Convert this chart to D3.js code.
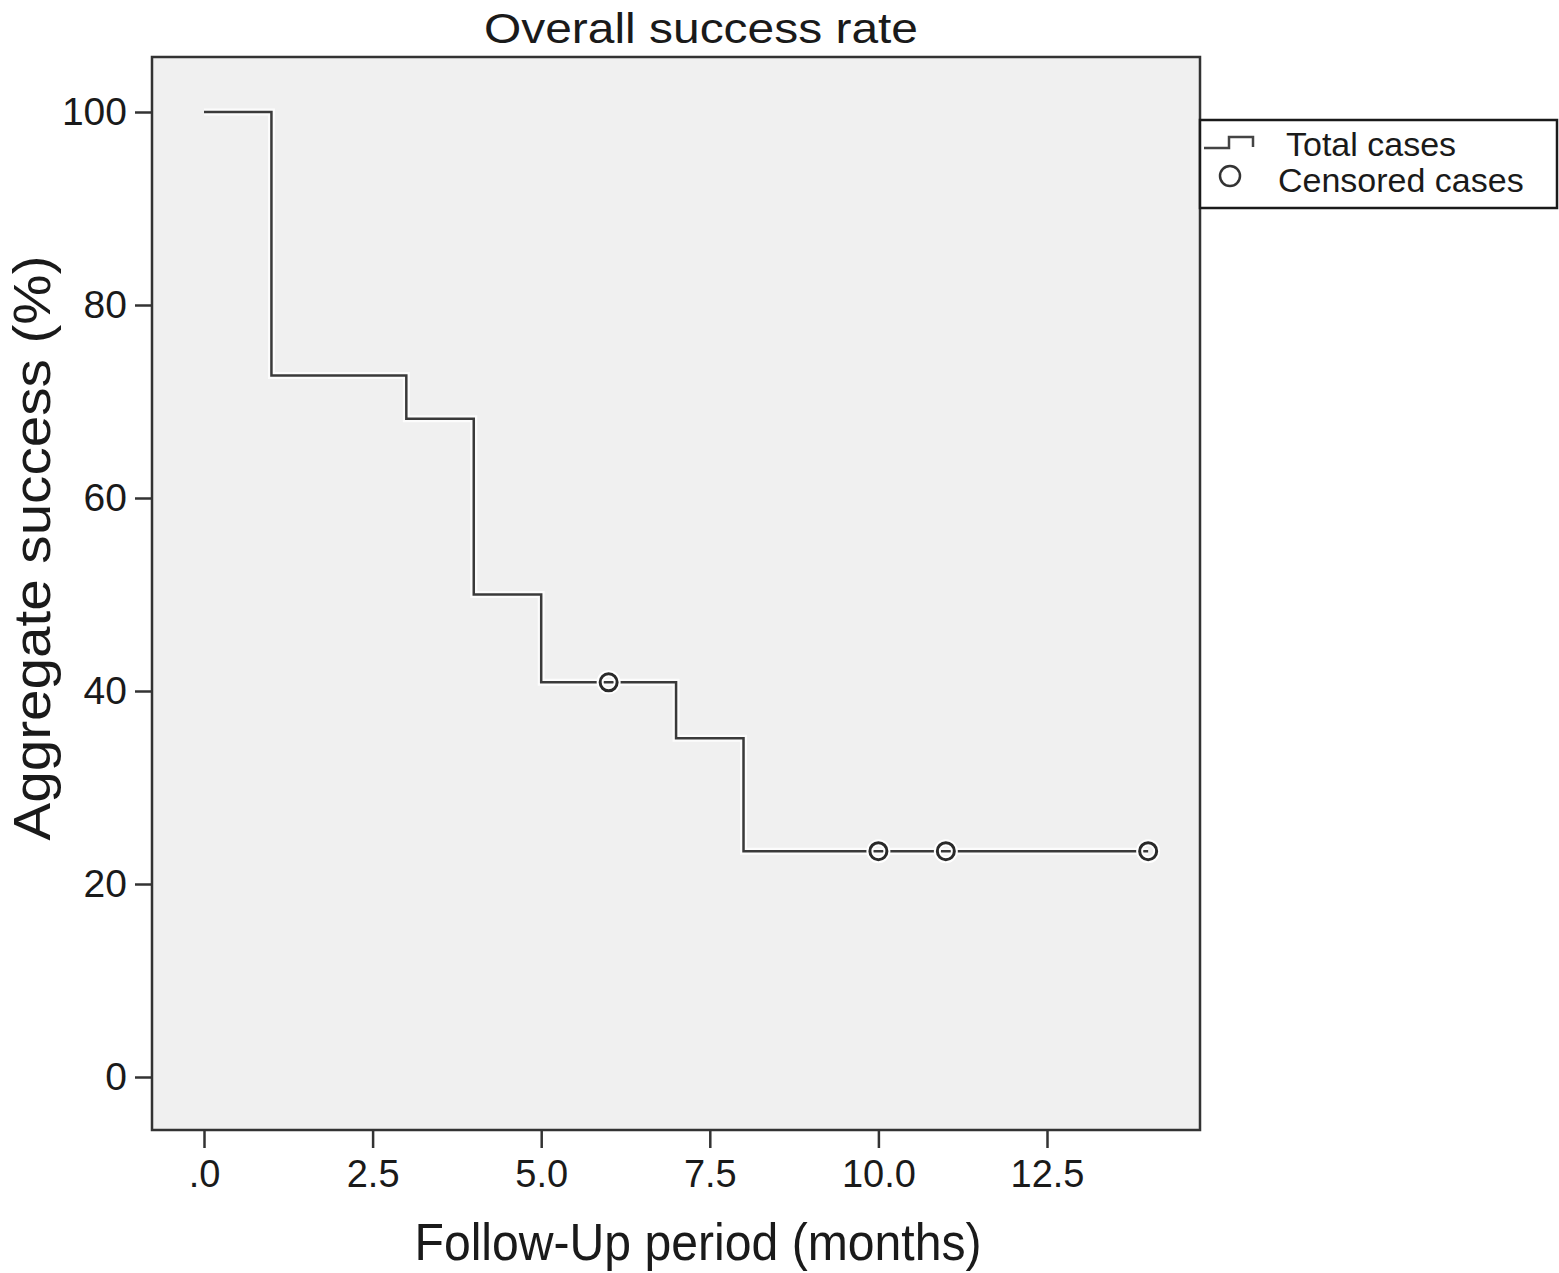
<!DOCTYPE html>
<html>
<head>
<meta charset="utf-8">
<script src="https://cdn.jsdelivr.net/npm/d3@7"></script>
<style>
  body { margin: 0; background: #fff; }
  text { font-family: "Liberation Sans", Arial, sans-serif; fill: #1a1a1a; }
</style>
</head>
<body>
<div id="chart"></div>
<script>
const width = 1559;
const height = 1273;

// Kaplan-Meier style steps: time (months) and survival (%)
const stepTimes = [0, 1, 3, 4, 5, 7, 8];
const stepValues = [100, 72.7, 68.2, 50.0, 40.9, 35.1, 23.4];
const lastTime = 14;
const censoredTimes = [6, 10, 11, 14];
const censoredValues = [40.9, 23.4, 23.4, 23.4];
const xTicks = [0, 2.5, 5, 7.5, 10, 12.5];
const yTicks = [0, 20, 40, 60, 80, 100];
const legendItems = ["Total cases", "Censored cases"];

const frame = { left: 152, top: 57, right: 1200, bottom: 1130 };

const svg = d3.select("#chart")
  .append("svg")
  .attr("width", width)
  .attr("height", height);

const x = d3.scaleLinear().domain([0, 12.5]).range([204, 1047]);
const y = d3.scaleLinear().domain([0, 100]).range([1077, 112]);

// plot background
svg.append("rect")
  .attr("x", frame.left)
  .attr("y", frame.top)
  .attr("width", frame.right - frame.left)
  .attr("height", frame.bottom - frame.top)
  .attr("fill", "#f0f0f0")
  .attr("stroke", "#333")
  .attr("stroke-width", 2.5);

// axes
const yAxis = svg.append("g")
  .attr("transform", `translate(${frame.left},0)`)
  .call(d3.axisLeft(y).tickValues(yTicks).tickSize(17).tickPadding(8).tickFormat(d3.format("d")));
yAxis.select(".domain").remove();
yAxis.selectAll("line").attr("stroke", "#333").attr("stroke-width", 2.5);
yAxis.selectAll("text").style("font-size", "39px").attr("fill", "#1a1a1a");

const xAxis = svg.append("g")
  .attr("transform", `translate(0,${frame.bottom})`)
  .call(d3.axisBottom(x).tickValues(xTicks).tickSize(18).tickPadding(12)
    .tickFormat(d => d === 0 ? ".0" : d3.format(".1f")(d)));
xAxis.select(".domain").remove();
xAxis.selectAll("line").attr("stroke", "#333").attr("stroke-width", 2.5);
xAxis.selectAll("text").style("font-size", "38px").attr("fill", "#1a1a1a");

// step line
const pts = stepTimes.map((t, i) => [t, stepValues[i]]);
pts.push([lastTime, stepValues[stepValues.length - 1]]);
const line = d3.line()
  .x(d => x(d[0]))
  .y(d => y(d[1]))
  .curve(d3.curveStepAfter);

svg.append("path")
  .datum(pts)
  .attr("d", line)
  .attr("fill", "none")
  .attr("stroke", "#fff")
  .attr("stroke-width", 7)
  .attr("opacity", 0.8);

svg.append("path")
  .datum(pts)
  .attr("d", line)
  .attr("fill", "none")
  .attr("stroke", "#3a3a3a")
  .attr("stroke-width", 2.5);

// censored marks
const marks = svg.append("g");
censoredTimes.forEach((t, i) => {
  marks.append("circle")
    .attr("cx", x(t))
    .attr("cy", y(censoredValues[i]))
    .attr("r", 8.5)
    .attr("fill", "none")
    .attr("stroke", "#fff")
    .attr("stroke-width", 7);
  marks.append("circle")
    .attr("cx", x(t))
    .attr("cy", y(censoredValues[i]))
    .attr("r", 8.5)
    .attr("fill", "none")
    .attr("stroke", "#2a2a2a")
    .attr("stroke-width", 3);
});

// titles
svg.append("text")
  .attr("x", 701)
  .attr("y", 43)
  .attr("text-anchor", "middle")
  .attr("textLength", 434)
  .attr("lengthAdjust", "spacingAndGlyphs")
  .style("font-size", "42px")
  .text("Overall success rate");

svg.append("text")
  .attr("x", 698)
  .attr("y", 1260)
  .attr("text-anchor", "middle")
  .attr("textLength", 567)
  .attr("lengthAdjust", "spacingAndGlyphs")
  .style("font-size", "52px")
  .text("Follow-Up period (months)");

svg.append("text")
  .attr("transform", "translate(50,548) rotate(-90)")
  .attr("text-anchor", "middle")
  .attr("textLength", 585)
  .attr("lengthAdjust", "spacingAndGlyphs")
  .style("font-size", "52px")
  .text("Aggregate success (%)");

// legend
const legend = svg.append("g");
legend.append("rect")
  .attr("x", 1200)
  .attr("y", 120)
  .attr("width", 357)
  .attr("height", 88)
  .attr("fill", "#fff")
  .attr("stroke", "#1a1a1a")
  .attr("stroke-width", 2.5);

legend.append("path")
  .attr("d", "M1204,148 H1229 V137 H1253 V147")
  .attr("fill", "none")
  .attr("stroke", "#444")
  .attr("stroke-width", 2.5);

legend.append("circle")
  .attr("cx", 1230)
  .attr("cy", 176)
  .attr("r", 10)
  .attr("fill", "none")
  .attr("stroke", "#333")
  .attr("stroke-width", 2.5);

legend.selectAll("text.leg")
  .data(legendItems)
  .join("text")
  .attr("class", "leg")
  .attr("x", (d, i) => i === 0 ? 1286 : 1278)
  .attr("y", (d, i) => 156 + i * 36)
  .style("font-size", "34px")
  .text(d => d);
</script>
</body>
</html>
